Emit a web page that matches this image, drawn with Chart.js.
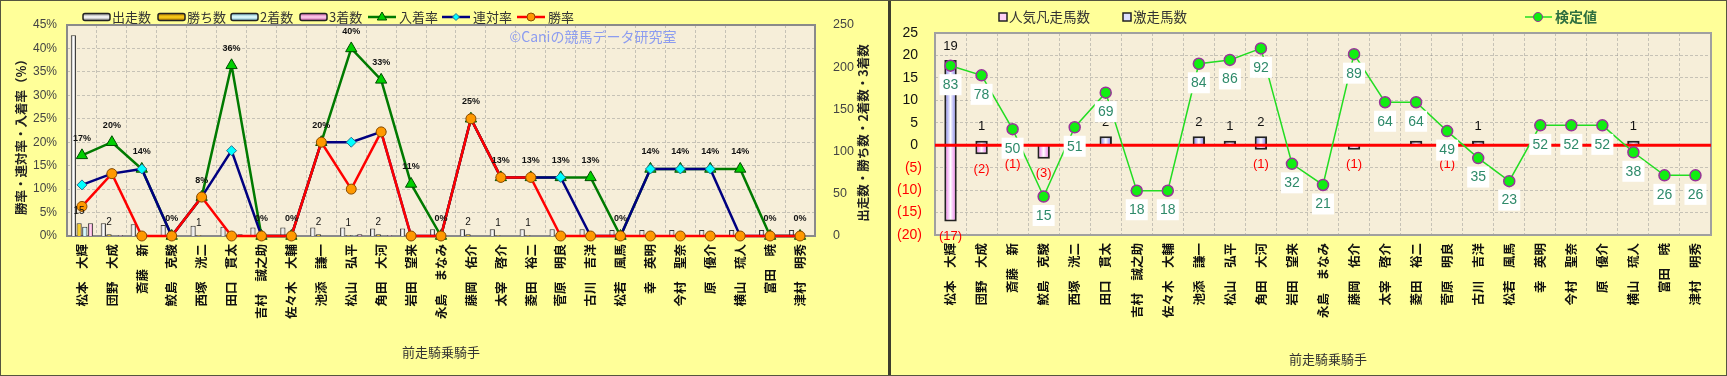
<!DOCTYPE html>
<html>
<head>
<meta charset="utf-8">
<script src="https://cdn.jsdelivr.net/npm/chart.js@4.4.0/dist/chart.umd.min.js"></script>
<style>
  html, body { margin: 0; padding: 0; background: #ffff99; }
  #wrap { position: relative; width: 1727px; height: 376px; background: #ffff99; overflow: hidden; }
  #c1 { position: absolute; left: 0; top: 0; }
  #c2 { position: absolute; left: 891px; top: 0; }
  #divider { position: absolute; left: 888px; top: 0; width: 3px; height: 376px; background: #3d3d2d; }
  #edge { position: absolute; left: 0; top: 0; width: 1725px; height: 374px; border: 1px solid #55553f; pointer-events: none; }
</style>
</head>
<body>
<div id="wrap">
  <canvas id="c1" width="888" height="376"></canvas>
  <div id="divider"></div>
  <canvas id="c2" width="836" height="376"></canvas>
  <div id="edge"></div>
</div>
<script>
// 前走騎乗騎手
var jockeys = [
    "松本　大輝", "団野　大成", "斎藤　新", "鮫島　克駿", "西塚　洸二",
    "田口　貫太", "吉村　誠之助", "佐々木　大輔", "池添　謙一", "松山　弘平",
    "角田　大河", "岩田　望来", "永島　まなみ", "藤岡　佑介", "太宰　啓介",
    "菱田　裕二", "菅原　明良", "古川　吉洋", "松若　風馬", "幸　英明",
    "今村　聖奈", "原　優介", "横山　琉人", "富田　暁", "津村　明秀"
];

// left chart: counts (right axis)
var runs    = [238, 15, 14, 13, 12, 11, 10, 10, 10, 10, 9, 9, 8, 8, 8, 8, 8, 8, 7, 7, 7, 7, 7, 7, 7];
var wins    = [15, 2, 0, 0, 1, 0, 0, 0, 2, 1, 2, 0, 0, 2, 1, 1, 0, 0, 0, 0, 0, 0, 0, 0, 0];
var seconds = [11, 0, 2, 0, 0, 2, 0, 0, 0, 1, 0, 0, 0, 0, 0, 0, 1, 0, 0, 1, 1, 1, 0, 0, 0];
var thirds  = [15, 1, 0, 0, 0, 2, 0, 0, 0, 2, 1, 1, 0, 0, 0, 0, 0, 1, 0, 0, 0, 0, 1, 0, 0];

// left chart: rates in % (left axis)
var winRate    = [6.3, 13.3, 0, 0, 8.3, 0, 0, 0, 20, 10, 22.2, 0, 0, 25, 12.5, 12.5, 0, 0, 0, 0, 0, 0, 0, 0, 0];
var rentaiRate = [10.9, 13.3, 14.3, 0, 8.3, 18.2, 0, 0, 20, 20, 22.2, 0, 0, 25, 12.5, 12.5, 12.5, 0, 0, 14.3, 14.3, 14.3, 0, 0, 0];
var showRate   = [17.2, 20, 14.3, 0, 8.3, 36.4, 0, 0, 20, 40, 33.3, 11.1, 0, 25, 12.5, 12.5, 12.5, 12.5, 0, 14.3, 14.3, 14.3, 14.3, 0, 0];

// right chart
var bonsoCount  = [-17, -2, -1, -3, 0, 0, 0, 0, 0, 0, -1, 0, 0, -1, 0, 0, -1, 0, 0, 0, 0, 0, 0, 0, 0];
var gekisoCount = [19, 1, 0, 0, 0, 2, 0, 0, 2, 1, 2, 0, 0, 0, 0, 1, 0, 1, 0, 0, 0, 0, 1, 0, 0];
var testValue   = [83, 78, 50, 15, 51, 69, 18, 18, 84, 86, 92, 32, 21, 89, 64, 64, 49, 35, 23, 52, 52, 52, 38, 26, 26];

var jp = "'Noto Sans CJK JP', sans-serif";
var num = "'Liberation Sans', Arial, 'Noto Sans CJK JP', sans-serif";
var gridCol = "rgba(140,140,140,0.45)";
var paper = "#f6eed9";

function shadeBars(chart) {
    var ctx = chart.ctx;
    chart.data.datasets.forEach(function (ds, i) {
        if (!ds.shade) return;
        chart.getDatasetMeta(i).data.forEach(function (bar) {
            var w = bar.width;
            var g = ctx.createLinearGradient(bar.x - w / 2, 0, bar.x + w / 2, 0);
            g.addColorStop(0, ds.shade[0]);
            g.addColorStop(0.5, ds.shade[1]);
            g.addColorStop(1, ds.shade[0]);
            bar.options = Object.assign({}, bar.options, { backgroundColor: g });
        });
    });
}

function marker(ctx, style, x, y, r, fill, stroke) {
    ctx.beginPath();
    if (style === "triangle") {
        ctx.moveTo(x, y - r);
        ctx.lineTo(x + r * 0.95, y + r * 0.6);
        ctx.lineTo(x - r * 0.95, y + r * 0.6);
        ctx.closePath();
    } else if (style === "rectRot") {
        ctx.moveTo(x, y - r);
        ctx.lineTo(x + r, y);
        ctx.lineTo(x, y + r);
        ctx.lineTo(x - r, y);
        ctx.closePath();
    } else {
        ctx.arc(x, y, r, 0, Math.PI * 2);
    }
    ctx.fillStyle = fill;
    ctx.fill();
    ctx.lineWidth = 1;
    ctx.strokeStyle = stroke;
    ctx.stroke();
}

function barKey(ctx, x, y, w, h, shade) {
    var g = ctx.createLinearGradient(0, y - h / 2, 0, y + h / 2);
    g.addColorStop(0, shade[0]);
    g.addColorStop(0.5, shade[1]);
    g.addColorStop(1, shade[0]);
    ctx.beginPath();
    if (ctx.roundRect) ctx.roundRect(x, y - h / 2, w, h, 2);
    else ctx.rect(x, y - h / 2, w, h);
    ctx.fillStyle = g;
    ctx.fill();
    ctx.lineWidth = 1.5;
    ctx.strokeStyle = "#222";
    ctx.stroke();
}

function keyText(ctx, text, x, y, font, color) {
    ctx.font = font;
    ctx.fillStyle = color || "#333";
    ctx.textAlign = "left";
    ctx.textBaseline = "middle";
    ctx.fillText(text, x, y);
}

function vText(ctx, text, x, y, font) {
    ctx.save();
    ctx.translate(x, y);
    ctx.rotate(-Math.PI / 2);
    ctx.font = font;
    ctx.fillStyle = "#222";
    ctx.textAlign = "center";
    ctx.textBaseline = "middle";
    ctx.fillText(text, 0, 0);
    ctx.restore();
}

function paperBg(chart) {
    var a = chart.chartArea, ctx = chart.ctx;
    ctx.save();
    ctx.fillStyle = paper;
    ctx.fillRect(a.left, a.top, a.right - a.left, a.bottom - a.top);
    ctx.restore();
}

function frame(chart, color) {
    var a = chart.chartArea, ctx = chart.ctx;
    ctx.save();
    ctx.lineWidth = 2;
    ctx.strokeStyle = color;
    ctx.strokeRect(a.left, a.top, a.right - a.left, a.bottom - a.top);
    ctx.restore();
}

var leftDeco = {
    id: "leftDeco",
    beforeDraw: function (chart) { paperBg(chart); },
    beforeDatasetsDraw: function (chart) {
        var ctx = chart.ctx;
        shadeBars(chart);
        frame(chart, "#8a8a8a");
        ctx.save();
        ctx.font = "14px " + jp;
        ctx.fillStyle = "#8c9cf0";
        ctx.textAlign = "center";
        ctx.textBaseline = "middle";
        ctx.fillText("©Caniの競馬データ研究室", 593, 37);
        ctx.restore();
    },
    afterDatasetsDraw: function (chart) {
        var ctx = chart.ctx;
        ctx.save();
        ctx.textAlign = "center";
        ctx.textBaseline = "middle";
        ctx.fillStyle = "#111";
        ctx.font = "10px " + num;
        chart.getDatasetMeta(4).data.forEach(function (bar, i) {
            if (wins[i] > 0) ctx.fillText(String(wins[i]), bar.x, bar.y - 12);
        });
        ctx.font = "bold 9px " + num;
        chart.getDatasetMeta(2).data.forEach(function (pt, i) {
            ctx.fillText(Math.round(showRate[i]) + "%", pt.x, pt.y - 17);
        });
        ctx.restore();
    },
    afterDraw: function (chart) {
        var ctx = chart.ctx;
        ctx.save();
        var y = 17, f = "13px " + jp;
        barKey(ctx, 83, y, 27, 7, ["#8a8a8a", "#ffffff"]);
        keyText(ctx, "出走数", 112, y, f);
        barKey(ctx, 158, y, 27, 7, ["#b07800", "#ffd21a"]);
        keyText(ctx, "勝ち数", 187, y, f);
        barKey(ctx, 231, y, 27, 7, ["#78b4c8", "#e6ffff"]);
        keyText(ctx, "2着数", 260, y, f);
        barKey(ctx, 300, y, 27, 7, ["#d060a8", "#ffd0ee"]);
        keyText(ctx, "3着数", 329, y, f);
        var lines = [
            [368, "入着率", "#007a00", "triangle", "#00d000", "#004d00", 5],
            [442, "連対率", "#000080", "rectRot", "#00ffff", "#2a6f8f", 3.5],
            [517, "勝率", "#ff0000", "circle", "#ff9900", "#8a4a00", 4]
        ];
        lines.forEach(function (l) {
            ctx.beginPath();
            ctx.moveTo(l[0], y);
            ctx.lineTo(l[0] + 28, y);
            ctx.lineWidth = 2.5;
            ctx.strokeStyle = l[2];
            ctx.stroke();
            marker(ctx, l[3], l[0] + 14, y, l[6], l[4], l[5]);
            keyText(ctx, l[1], l[0] + 31, y, f);
        });
        vText(ctx, "勝率・連対率・入着率（%）", 21, 134, "bold 12.5px " + jp);
        vText(ctx, "出走数・勝ち数・2着数・3着数", 863, 133, "bold 12.5px " + jp);
        ctx.font = "13px " + jp;
        ctx.fillStyle = "#333";
        ctx.textAlign = "center";
        ctx.textBaseline = "middle";
        ctx.fillText("前走騎乗騎手", 441, 352);
        ctx.restore();
    }
};

var xTicks = {
    autoSkip: false,
    maxRotation: 90,
    minRotation: 90,
    padding: 8,
    color: "#111",
    font: { family: jp, size: 12.5, weight: "bold" }
};

new Chart(document.getElementById("c1"), {
    type: "bar",
    data: {
        labels: jockeys,
        datasets: [
            {
                type: "line", label: "勝率", data: winRate, yAxisID: "y", order: 0, clip: false,
                borderColor: "#ff0000", borderWidth: 2.5, tension: 0,
                pointStyle: "circle", pointRadius: 5, pointBackgroundColor: "#ff9900",
                pointBorderColor: "#8a4a00", pointBorderWidth: 1
            },
            {
                type: "line", label: "連対率", data: rentaiRate, yAxisID: "y", order: 1, clip: false,
                borderColor: "#000080", borderWidth: 2.5, tension: 0,
                pointStyle: "rectRot", pointRadius: 5, pointBackgroundColor: "#00ffff",
                pointBorderColor: "#2a6f8f", pointBorderWidth: 1
            },
            {
                type: "line", label: "入着率", data: showRate, yAxisID: "y", order: 2, clip: false,
                borderColor: "#007a00", borderWidth: 2.5, tension: 0,
                pointStyle: "triangle", pointRadius: 6.5, pointBackgroundColor: "#00d000",
                pointBorderColor: "#004d00", pointBorderWidth: 1
            },
            {
                label: "出走数", data: runs, yAxisID: "y2", order: 3,
                shade: ["#9a9a9a", "#ffffff"], backgroundColor: "#eeeeee",
                borderColor: "#333", borderWidth: 1
            },
            {
                label: "勝ち数", data: wins, yAxisID: "y2", order: 3,
                shade: ["#c88a00", "#ffdd33"], backgroundColor: "#ffcc00",
                borderColor: "#333", borderWidth: 1
            },
            {
                label: "2着数", data: seconds, yAxisID: "y2", order: 3,
                shade: ["#88c4d8", "#e8ffff"], backgroundColor: "#bff0ff",
                borderColor: "#333", borderWidth: 1
            },
            {
                label: "3着数", data: thirds, yAxisID: "y2", order: 3,
                shade: ["#e070b8", "#ffd6f0"], backgroundColor: "#ff99cc",
                borderColor: "#333", borderWidth: 1
            }
        ]
    },
    options: {
        responsive: false,
        animation: false,
        layout: { padding: { top: 25, left: 0, right: 0, bottom: 0 } },
        datasets: { bar: { categoryPercentage: 0.76, barPercentage: 0.92 } },
        plugins: { legend: { display: false }, tooltip: { enabled: false } },
        scales: {
            x: {
                offset: true,
                grid: { color: gridCol, offset: true, drawTicks: false },
                border: { display: false, dash: [3, 2] },
                ticks: xTicks,
                afterFit: function (s) { s.height = 140; }
            },
            y: {
                position: "left", min: 0, max: 45,
                ticks: { stepSize: 5, padding: 10, color: "#444", font: { family: num, size: 12 },
                    callback: function (v) { return v + "%"; } },
                grid: { color: gridCol, drawTicks: false },
                border: { display: false, dash: [3, 2] },
                afterFit: function (s) { s.width = 67; }
            },
            y2: {
                position: "right", min: 0, max: 250,
                ticks: { stepSize: 50, padding: 10, color: "#444", font: { family: num, size: 12.5 } },
                grid: { display: false },
                border: { display: false },
                afterFit: function (s) { s.width = 73; }
            }
        }
    },
    plugins: [leftDeco]
});

var rightDeco = {
    id: "rightDeco",
    beforeDraw: function (chart) { paperBg(chart); },
    beforeDatasetsDraw: function (chart) {
        shadeBars(chart);
        frame(chart, "#a0a0a0");
    },
    afterDatasetDraw: function (chart, args) {
        if (args.index !== 0) return;
        var a = chart.chartArea, ctx = chart.ctx;
        var y0 = chart.scales.y.getPixelForValue(0);
        ctx.save();
        ctx.beginPath();
        ctx.moveTo(a.left, y0);
        ctx.lineTo(a.right, y0);
        ctx.lineWidth = 3;
        ctx.strokeStyle = "#ff0000";
        ctx.stroke();
        ctx.restore();
    },
    afterDatasetsDraw: function (chart) {
        var ctx = chart.ctx;
        ctx.save();
        ctx.textAlign = "center";
        ctx.textBaseline = "middle";
        ctx.font = "13px " + num;
        chart.getDatasetMeta(1).data.forEach(function (bar, i) {
            if (gekisoCount[i] > 0) {
                ctx.fillStyle = "#111";
                ctx.fillText(String(gekisoCount[i]), bar.x, bar.y - 14);
            }
        });
        chart.getDatasetMeta(0).data.forEach(function (bar, i) {
            if (bonsoCount[i] < 0) {
                ctx.fillStyle = "#ff0000";
                ctx.fillText("(" + (-bonsoCount[i]) + ")", bar.x, bar.y + 15);
            }
        });
        ctx.font = "14px " + num;
        chart.getDatasetMeta(2).data.forEach(function (pt, i) {
            var cy = pt.y + 19;
            ctx.fillStyle = "#ffffff";
            ctx.fillRect(pt.x - 11, cy - 10.5, 22, 21);
            ctx.fillStyle = "#2e8a6a";
            ctx.fillText(String(testValue[i]), pt.x, cy + 0.5);
        });
        ctx.restore();
    },
    afterDraw: function (chart) {
        var ctx = chart.ctx, y = 17, f = "13.5px " + jp;
        ctx.save();
        ctx.lineWidth = 1.5;
        ctx.strokeStyle = "#222";
        ctx.fillStyle = "#ffd0f4";
        ctx.fillRect(108, y - 4, 8, 8);
        ctx.strokeRect(108, y - 4, 8, 8);
        keyText(ctx, "人気凡走馬数", 118, y, f);
        ctx.fillStyle = "#dde0ff";
        ctx.fillRect(232, y - 4, 8, 8);
        ctx.strokeRect(232, y - 4, 8, 8);
        keyText(ctx, "激走馬数", 242, y, f);
        ctx.beginPath();
        ctx.moveTo(634, y);
        ctx.lineTo(661, y);
        ctx.lineWidth = 1.5;
        ctx.strokeStyle = "#22dd22";
        ctx.stroke();
        marker(ctx, "circle", 647, y, 4.5, "#11ee11", "#993399");
        keyText(ctx, "検定値", 664, y, "bold 14px " + jp, "#2f6f3f");
        ctx.font = "13px " + jp;
        ctx.fillStyle = "#333";
        ctx.textAlign = "center";
        ctx.textBaseline = "middle";
        ctx.fillText("前走騎乗騎手", 437, 359);
        ctx.restore();
    }
};

new Chart(document.getElementById("c2"), {
    type: "bar",
    data: {
        labels: jockeys,
        datasets: [
            {
                label: "人気凡走馬数", data: bonsoCount, order: 1,
                shade: ["#e860e8", "#ffffff"], backgroundColor: "#ffccff",
                borderColor: "#222", borderWidth: 2
            },
            {
                label: "激走馬数", data: gekisoCount, order: 1,
                shade: ["#6a6ae8", "#ffffff"], backgroundColor: "#ccccff",
                borderColor: "#222", borderWidth: 2
            },
            {
                type: "line", label: "検定値", data: testValue, yAxisID: "y3", order: 0, clip: false,
                borderColor: "#22dd22", borderWidth: 1.5, tension: 0,
                pointRadius: 5.5, pointBackgroundColor: "#11ee11",
                pointBorderColor: "#993399", pointBorderWidth: 1.5
            }
        ]
    },
    options: {
        responsive: false,
        animation: false,
        layout: { padding: { top: 33, left: 0, right: 16, bottom: 0 } },
        datasets: { bar: { categoryPercentage: 0.8, barPercentage: 0.5 } },
        plugins: { legend: { display: false }, tooltip: { enabled: false } },
        scales: {
            x: {
                stacked: true,
                offset: true,
                grid: { color: gridCol, offset: true, drawTicks: false },
                border: { display: false, dash: [3, 2] },
                ticks: xTicks,
                afterFit: function (s) { s.height = 141; }
            },
            y: {
                stacked: true, min: -20, max: 25,
                ticks: {
                    stepSize: 5, padding: 13, font: { family: num, size: 14 },
                    color: function (c) { return c.tick && c.tick.value < 0 ? "#ff0000" : "#111"; },
                    callback: function (v) { return v < 0 ? "(" + (-v) + ")" : v + " "; }
                },
                grid: { color: gridCol, drawTicks: false },
                border: { display: false, dash: [3, 2] },
                afterFit: function (s) { s.width = 44; }
            },
            y3: {
                display: false, min: -5, max: 100
            }
        }
    },
    plugins: [rightDeco]
});
</script>
</body>
</html>
